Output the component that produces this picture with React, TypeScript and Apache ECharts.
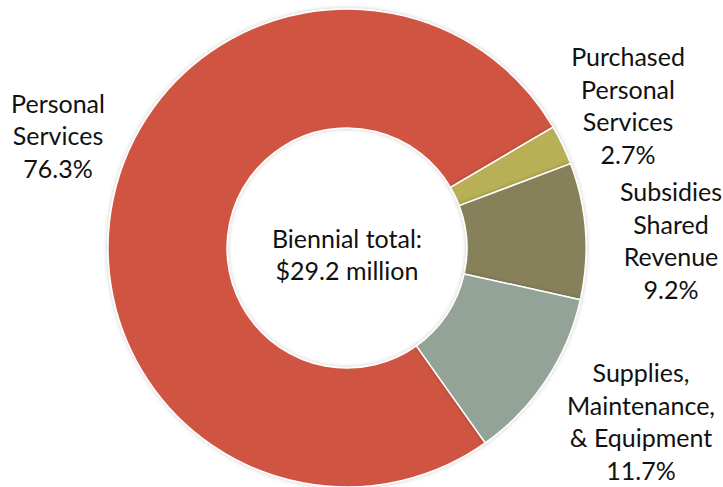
import React, { useEffect, useRef } from "react";
import * as echarts from "echarts";

const categories = [
  "Personal\nServices",
  "Purchased\nPersonal\nServices",
  "Subsidies\nShared\nRevenue",
  "Supplies,\nMaintenance,\n& Equipment",
];
const shares = [76.3, 2.7, 9.2, 11.7];
const colors = ["#CF5442", "#B8AF56", "#86815A", "#94A398"];
const centerLines = ["Biennial total:", "$29.2 million"];

// label anchor points (centre of each text block)
const labelAnchors: [number, number][] = [
  [58, 135],
  [628, 105],
  [671, 240],
  [641, 421],
];

export default function App() {
  const ref = useRef<HTMLDivElement>(null);
  useEffect(() => {
    if (!ref.current) return;
    const chart = echarts.init(ref.current, undefined, { renderer: "svg" });
    const font = "Lato, 'Open Sans', sans-serif";
    chart.setOption({
      animation: false,
      backgroundColor: "#ffffff",
      graphic: [
        {
          type: "text",
          x: 347,
          y: 254,
          style: {
            text: centerLines.join("\n"),
            fontFamily: font,
            fontSize: 25,
            lineHeight: 32,
            fill: "#111111",
            align: "center",
            verticalAlign: "middle",
          },
        },
      ],
      series: [
        {
          type: "pie",
          center: [347, 248],
          radius: [120, 239],
          startAngle: 305.35,
          clockwise: true,
          avoidLabelOverlap: false,
          itemStyle: {
            borderColor: "#ffffff",
            borderWidth: 1.5,
            shadowBlur: 4,
            shadowColor: "rgba(0,0,0,0.22)",
          },
          label: {
            show: true,
            position: "outside",
            formatter: (p: any) => `${p.name}\n${p.value}%`,
            fontFamily: font,
            fontSize: 25,
            lineHeight: 32.5,
            color: "#111111",
            align: "center",
          },
          labelLine: { show: false },
          labelLayout: (params: any) => {
            const a = labelAnchors[params.dataIndex];
            return {
              x: a[0],
              y: a[1],
              align: "center",
              verticalAlign: "middle",
            };
          },
          emphasis: { disabled: true },
          data: categories.map((name, i) => ({
            name,
            value: shares[i],
            itemStyle: { color: colors[i] },
          })),
        },
      ],
    });
    return () => chart.dispose();
  }, []);
  return (
    <div
      ref={ref}
      style={{ position: "fixed", left: 0, top: 0, width: 723, height: 487 }}
    />
  );
}
